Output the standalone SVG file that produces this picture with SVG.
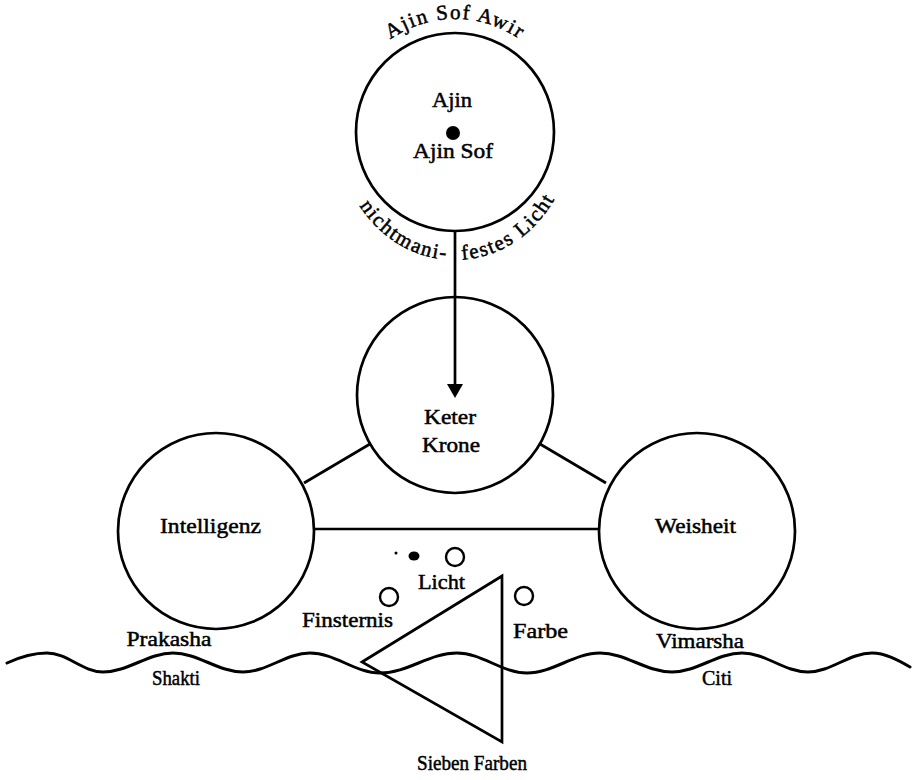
<svg xmlns="http://www.w3.org/2000/svg" xmlns:xlink="http://www.w3.org/1999/xlink" width="915" height="780" viewBox="0 0 915 780">
<style>
  .node { fill: none; stroke: #000; stroke-width: 2.7; }
  .small { fill: none; stroke: #000; stroke-width: 2.4; }
  .conn { fill: none; stroke: #000; stroke-width: 2.7; }
  .wave { fill: none; stroke: #000; stroke-width: 3; stroke-linecap: round; }
  text { font-family: "Liberation Serif", "Times New Roman", serif; font-size: 22px; fill: #000; stroke: #000; stroke-width: 0.5; }
  .c { text-anchor: middle; }
  .arc { font-size: 21px; letter-spacing: 1.6px; }
</style>
<defs>
  <marker id="ah" markerUnits="userSpaceOnUse" markerWidth="14" markerHeight="16" viewBox="0 0 14 16" refX="0" refY="8" orient="auto">
    <path d="M0,0 L14,8 L0,16 z" fill="#000"/>
  </marker>
  <path id="arcTop" d="M342,132 A113,113 0 0 1 568,132"/>
  <path id="arcBot" d="M338,132 A117,128 0 0 0 572,132"/>
</defs>
<rect width="915" height="780" fill="#fff"/>

<g id="connectors">
  <line class="conn" x1="455" y1="231" x2="455" y2="384" marker-end="url(#ah)"/>
  <line class="conn" x1="304" y1="483" x2="370" y2="444"/>
  <line class="conn" x1="540" y1="444" x2="606" y2="483"/>
  <line class="conn" x1="314" y1="529" x2="599" y2="529"/>
</g>

<g id="ajin-sof">
  <circle class="node" cx="455" cy="132" r="99"/>
  <circle cx="453" cy="133" r="7" fill="#000"/>
  <text class="c" x="452" y="107" textLength="40" lengthAdjust="spacingAndGlyphs">Ajin</text>
  <text class="c" x="453" y="158" textLength="80" lengthAdjust="spacingAndGlyphs">Ajin Sof</text>
  <text class="arc"><textPath xlink:href="#arcTop" startOffset="50%" text-anchor="middle">Ajin Sof Awir</textPath></text>
  <text class="arc"><textPath xlink:href="#arcBot" startOffset="48%" text-anchor="end">nichtmani-</textPath></text>
  <text class="arc"><textPath xlink:href="#arcBot" startOffset="51.8%" text-anchor="start">festes Licht</textPath></text>
</g>

<g id="keter">
  <circle class="node" cx="455" cy="395" r="98"/>
  <text class="c" x="450" y="424" textLength="52" lengthAdjust="spacingAndGlyphs">Keter</text>
  <text class="c" x="451" y="452" textLength="58" lengthAdjust="spacingAndGlyphs">Krone</text>
</g>

<g id="intelligenz">
  <circle class="node" cx="216" cy="531" r="98"/>
  <text class="c" x="210.5" y="533" textLength="101" lengthAdjust="spacingAndGlyphs">Intelligenz</text>
</g>

<g id="weisheit">
  <circle class="node" cx="697" cy="531" r="98"/>
  <text class="c" x="695.5" y="533" textLength="81" lengthAdjust="spacingAndGlyphs">Weisheit</text>
</g>

<g id="licht">
  <circle cx="396" cy="553" r="1.5" fill="#000"/>
  <ellipse cx="414" cy="556" rx="5.5" ry="4.5" fill="#000"/>
  <circle class="small" cx="455" cy="557" r="9"/>
  <text class="c" x="441.5" y="589" textLength="47" lengthAdjust="spacingAndGlyphs">Licht</text>
</g>

<g id="finsternis">
  <circle class="small" cx="389" cy="597" r="9"/>
  <text class="c" x="347.5" y="627" textLength="91" lengthAdjust="spacingAndGlyphs">Finsternis</text>
</g>

<g id="farbe">
  <circle class="small" cx="524" cy="596" r="9"/>
  <text class="c" x="540.5" y="638" textLength="55" lengthAdjust="spacingAndGlyphs">Farbe</text>
</g>

<g id="triangle">
  <polygon class="conn" points="362,662 502,576 502,742" stroke-linejoin="miter"/>
  <text class="c" x="472" y="770" textLength="110" lengthAdjust="spacingAndGlyphs">Sieben Farben</text>
</g>

<g id="wave">
  <path class="wave" d="M7,663 C20,657 35,653 47,653 C67,653 83,672 103,672 C128,672 148,653 173,653 C198,653 218,672 243,672 C267,672 286,653 310,653 C335,653 355,673 380,673 C408,673 429,653 457,653 C482,653 502,673 527,673 C553,673 574,653 600,653 C626,653 646,672 672,672 C697,672 717,653 742,653 C766,653 784,672 808,672 C831,672 849,653 872,653 C885,653 898,660 910,667"/>
  <text class="c" x="169" y="646" textLength="85" lengthAdjust="spacingAndGlyphs">Prakasha</text>
  <text class="c" x="176" y="685" textLength="48" lengthAdjust="spacingAndGlyphs">Shakti</text>
  <text class="c" x="700" y="648" textLength="88" lengthAdjust="spacingAndGlyphs">Vimarsha</text>
  <text class="c" x="717" y="685" textLength="30" lengthAdjust="spacingAndGlyphs">Citi</text>
</g>
</svg>
